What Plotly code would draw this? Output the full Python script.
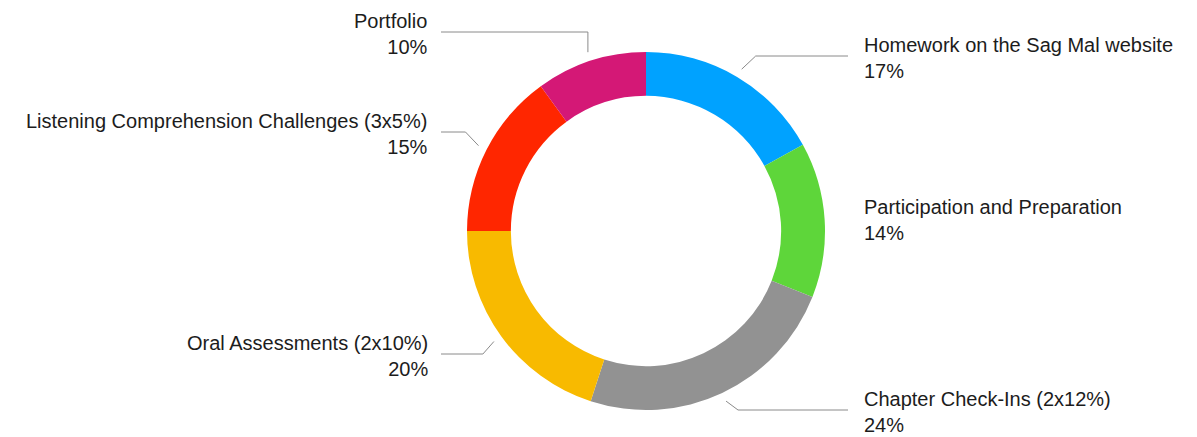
import math
import plotly.graph_objects as go

# ---- data ----
categories = [
    "Homework on the Sag Mal website",
    "Participation and Preparation",
    "Chapter Check-Ins (2x12%)",
    "Oral Assessments (2x10%)",
    "Listening Comprehension Challenges (3x5%)",
    "Portfolio",
]
values = [17, 14, 24, 20, 15, 10]
colors = ["#00A2FF", "#5ED63A", "#929292", "#F8BA00", "#FF2600", "#D41876"]

# ---- layout constants (pixels) ----
W, H = 1197, 437
cx, cy, R = 646, 231, 179
hole = 0.755
label_side = [1, 1, 1, -1, -1, -1]
label_y = [58, 220, 412, 356, 134, 34]        # vertical centre of each label block
elbow_dx = [14, None, 12, -11, -13, 0]        # None -> no leader line
text_x_right, text_x_left = 862, 430
line_end_right, line_end_left = 848, 441
FONT = "Liberation Sans, Arial, Helvetica, sans-serif"

def px(x):
    return x / W

def py(y):
    return 1 - y / H

fig = go.Figure()
fig.add_trace(go.Pie(
    labels=categories,
    values=values,
    sort=False,
    direction="clockwise",
    rotation=0,
    hole=hole,
    textinfo="none",
    hoverinfo="label+percent",
    marker=dict(colors=colors, line=dict(width=0)),
    domain=dict(x=[px(cx - R), px(cx + R)], y=[py(cy + R), py(cy - R)]),
    showlegend=False,
))

total = sum(values)
cum = 0
shapes, annotations = [], []
for i, (cat, v) in enumerate(zip(categories, values)):
    mid = (cum + v / 2) / total * 2 * math.pi
    cum += v
    side = label_side[i]
    ly = label_y[i]
    if elbow_dx[i] is not None:
        r0 = R + 9
        sx = cx + r0 * math.sin(mid)
        sy = cy - r0 * math.cos(mid)
        ey = ly - 2
        ex = sx + elbow_dx[i]
        hx = line_end_right if side > 0 else line_end_left
        path = f"M {px(sx)} {py(sy)} L {px(ex)} {py(ey)} L {px(hx)} {py(ey)}"
        shapes.append(dict(type="path", xref="paper", yref="paper", path=path,
                           line=dict(color="#8a8a8a", width=1)))
    pct = round(v / total * 100)
    annotations.append(dict(
        xref="paper", yref="paper",
        x=px(text_x_right if side > 0 else text_x_left), y=py(ly),
        xanchor="left" if side > 0 else "right", yanchor="middle",
        align="left" if side > 0 else "right",
        text=f"{cat}<br>{pct}%",
        showarrow=False,
        font=dict(family=FONT, size=20, color="#1c1c1c"),
    ))

fig.update_layout(
    width=W, height=H,
    margin=dict(l=0, r=0, t=0, b=0),
    paper_bgcolor="white",
    plot_bgcolor="white",
    shapes=shapes,
    annotations=annotations,
)

fig.write_html(
    "out.html",
    config={"displayModeBar": False},
    post_script="document.body.style.margin='0';document.body.style.overflow='hidden';",
)
